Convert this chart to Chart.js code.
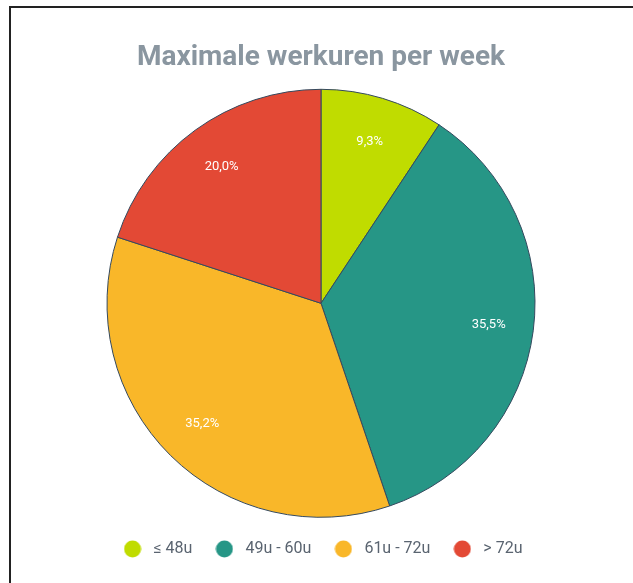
<!DOCTYPE html>
<html>
<head>
<meta charset="utf-8">
<script src="https://cdn.jsdelivr.net/npm/chart.js@4"></script>
<style>
  body { margin: 0; background: #fff; overflow: hidden; }
  .box {
    position: absolute; left: 9px; top: 6px; width: 622px; height: 600px;
    border-top: 2px solid #222; border-left: 2px solid #222; border-right: 1px solid #bbb;
  }
  .box canvas { position: absolute; left: 0; top: 0; }
</style>
</head>
<body>
<div class="box"><canvas id="myPieChart" width="620" height="574"></canvas></div>
<script>
// Maximale werkuren per week (percentages)
var xLabels = ["≤ 48u", "49u - 60u", "61u - 72u", "> 72u"];
var yValues = [9.3, 35.5, 35.2, 20.0];
var sliceColors = ["#c0dc00", "#269686", "#f9b729", "#e34935"];

// small filled dot used as legend marker
function dot(color) {
    var c = document.createElement("canvas");
    c.width = 18; c.height = 18;
    var g = c.getContext("2d");
    g.fillStyle = color;
    g.beginPath();
    g.arc(9, 9, 8.5, 0, Math.PI * 2);
    g.fill();
    return c;
}

// draw the percentages inside the slices
var pctLabels = {
    id: "pctLabels",
    afterDatasetsDraw: function(chart) {
        var ctx = chart.ctx;
        var meta = chart.getDatasetMeta(0);
        ctx.save();
        ctx.fillStyle = "#ffffff";
        ctx.font = "13px Roboto";
        ctx.textAlign = "center";
        ctx.textBaseline = "middle";
        meta.data.forEach(function(arc, i) {
            var p = arc.getProps(["x", "y", "startAngle", "endAngle", "outerRadius"], true);
            var a = (p.startAngle + p.endAngle) / 2;
            var r = p.outerRadius * 0.79;
            var txt = yValues[i].toFixed(1).replace(".", ",") + "%";
            ctx.fillText(txt, p.x + Math.cos(a) * r, p.y + Math.sin(a) * r);
        });
        ctx.restore();
    }
};

new Chart("myPieChart", {
    type: "pie",
    data: {
        labels: xLabels,
        datasets: [{
            backgroundColor: sliceColors,
            borderColor: "#34495e",
            borderWidth: 1,
            radius: 214,
            data: yValues
        }]
    },
    options: {
        responsive: false,
        animation: false,
        layout: { padding: { top: 28, bottom: 15 } },
        plugins: {
            title: {
                display: true,
                text: "Maximale werkuren per week",
                color: "#8a96a0",
                font: { family: "Roboto", size: 28, weight: "bold" },
                padding: { top: 5, bottom: 10 }
            },
            legend: {
                position: "bottom",
                labels: {
                    usePointStyle: true,
                    pointStyleWidth: 26,
                    color: "#5a6470",
                    font: { family: "Roboto", size: 16 },
                    padding: 19,
                    generateLabels: function(chart) {
                        var items = Chart.overrides.pie.plugins.legend.labels.generateLabels(chart);
                        items.forEach(function(it, i) {
                            it.pointStyle = dot(sliceColors[i]);
                            it.lineWidth = 0;
                        });
                        return items;
                    }
                }
            },
            tooltip: { enabled: false }
        }
    },
    plugins: [pctLabels]
});
</script>
</body>
</html>
